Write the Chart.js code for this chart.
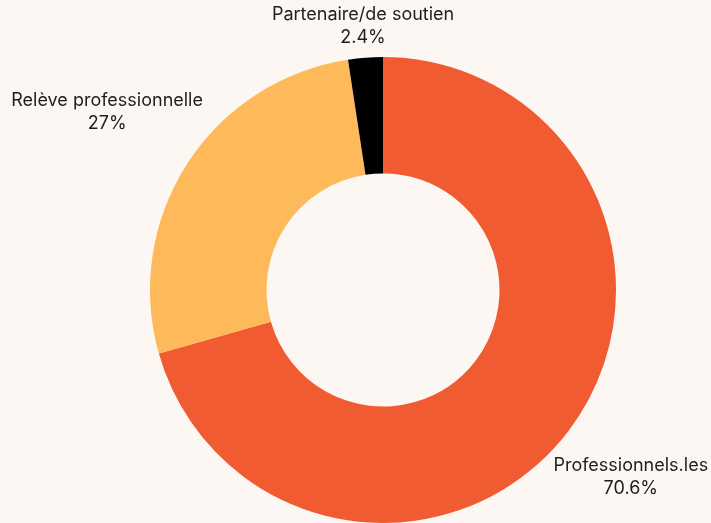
<!DOCTYPE html>
<html>
<head>
<meta charset="utf-8">
<script src="https://cdn.jsdelivr.net/npm/chart.js@4/dist/chart.umd.min.js"></script>
<style>
  html, body { margin: 0; padding: 0; background: #fcf7f3; }
  #wrap { width: 711px; height: 523px; }
</style>
</head>
<body>
<div id="wrap"><canvas id="myChart" width="711" height="523"></canvas></div>
<script>
// categories and values (percent)
let categories = ['Professionnels.les', 'Relève professionnelle', 'Partenaire/de soutien'];
let values = [70.6, 27, 2.4];
let valueLabels = ['70.6%', '27%', '2.4%'];
let sliceColors = ['#f05b31', '#fdb95a', '#000000'];

// draws the name + percent outside each slice
const outsideLabels = {
	id: 'outsideLabels',
	afterDatasetsDraw(chart, args, opts) {
		const ctx = chart.ctx;
		const meta = chart.getDatasetMeta(0);
		ctx.save();
		ctx.font = opts.font;
		ctx.fillStyle = opts.color;
		ctx.textAlign = 'center';
		ctx.textBaseline = 'middle';
		meta.data.forEach(function(arc, i) {
			const mid = (arc.startAngle + arc.endAngle) / 2;
			const lines = [categories[i], valueLabels[i]];
			const w = Math.max.apply(null, lines.map(function(t) { return ctx.measureText(t).width; }));
			const h = lines.length * opts.lineHeight;
			const c = Math.cos(mid), s = Math.sin(mid);
			const ext = Math.abs(c) * w / 2 + Math.abs(s) * h / 2;
			const d = arc.outerRadius + opts.gap + ext;
			const cx = arc.x + c * d;
			const cy = arc.y + s * d;
			lines.forEach(function(t, j) {
				ctx.fillText(t, cx, cy - h / 2 + opts.lineHeight * (j + 0.5));
			});
		});
		ctx.restore();
	}
};

let myChart = document.getElementById('myChart').getContext('2d');
let chart = new Chart(myChart, {
	type: 'doughnut',
	data: {
		labels: categories,
		datasets: [{
			data: values,
			backgroundColor: sliceColors,
			borderWidth: 0
		}]
	},
	options: {
		responsive: false,
		animation: false,
		cutout: '50%',
		layout: {
			padding: { left: 55, right: 0, top: 57, bottom: 0 }
		},
		plugins: {
			legend: { display: false },
			tooltip: { enabled: false },
			outsideLabels: {
				font: '18px Inter',
				color: '#1e1e1e',
				lineHeight: 23,
				gap: 2
			}
		}
	},
	plugins: [outsideLabels]
});
</script>
</body>
</html>
